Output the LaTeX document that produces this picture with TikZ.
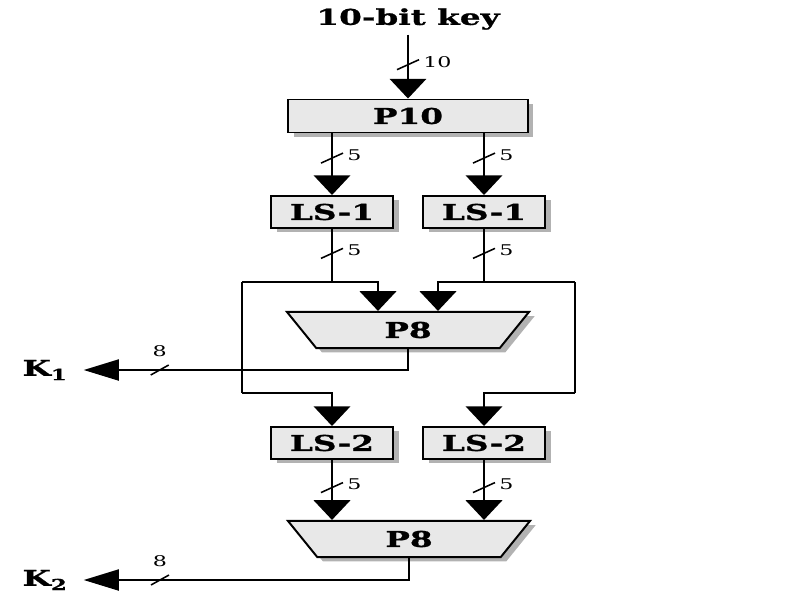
\documentclass[tikz,border=0pt]{standalone}
\usepackage{fontspec}
\setmainfont{DejaVu Serif}[FakeStretch=1.5, BoldFeatures={FakeBold=1}]
\usetikzlibrary{arrows.meta,positioning,shapes.geometric,shadows}

\tikzset{
  box/.style={draw, line width=1.4pt, fill=gray!18, inner sep=0pt, font=\bfseries\fontsize{15.5}{18}\selectfont,
    drop shadow={shadow xshift=4pt, shadow yshift=-3pt, fill=gray!60, opacity=1}},
  lsbox/.style={box, minimum width=3.05cm, minimum height=0.8cm},
  perm/.style={box, trapezium, shape border rotate=180, trapezium angle=51, trapezium stretches body,
    inner ysep=7pt, minimum width=6.05cm, minimum height=0.875cm},
  wire/.style={line width=1.3pt},
  arrow/.style={wire, -{Triangle[width=26pt,length=14pt]}},
  arrowl/.style={wire, -{Triangle[width=15pt,length=25pt]}, shorten >=8pt},
  lbl/.style={font=\bfseries\fontsize{15.5}{18}\selectfont},
  buslbl/.style={font=\fontsize{10.5}{12}\selectfont, inner sep=1pt},
  bus/.pic={\draw[-, shorten >=0pt, line width=1.1pt] (-11,5) -- (11,-5); \node[buslbl, anchor=west] at (13,-3) {#1};},
  busk/.pic={\draw[-, shorten >=0pt, line width=1.1pt] (-9,5) -- (9,-5); \node[buslbl, anchor=south] at (0,-11) {#1};}
}

\begin{document}
\begin{tikzpicture}[x=0.025cm, y=-0.025cm]
  \useasboundingbox (0,0) rectangle (809,612);

  \node[lbl] (key) at (408,19) {10-bit key};
  \node[box, minimum width=5.975cm, minimum height=0.825cm] (p10) at (408,116) {P10};

  \node[lsbox] (ls1a) at (332,212) {LS-1};
  \node[lsbox] (ls1b) at (484,212) {LS-1};

  \node[perm] (p8a) at (408,330) {P8};

  \node[lsbox] (ls2a) at (332,443) {LS-2};
  \node[lsbox] (ls2b) at (484,443) {LS-2};

  \node[perm] (p8b) at (409,539) {P8};

  \node[lbl] (k1) at (45,370) {K\textsubscript{1}};
  \node[lbl] (k2) at (45,580) {K\textsubscript{2}};

  % split and cross-over points
  \coordinate (ja) at (332,282);
  \coordinate (jb) at (484,282);
  \coordinate (la) at (242,282);
  \coordinate (ra) at (575,282);
  \coordinate (ia) at (378,282);
  \coordinate (ib) at (438,282);
  \coordinate (lb) at (242,393);
  \coordinate (rb) at (575,393);
  \coordinate (ma) at (332,393);
  \coordinate (mb) at (484,393);

  \draw[arrow] (key) -- pic[pos=0.47]{bus=10} (p10);
  \draw[arrow] (p10.south -| ls1a) -- pic[pos=0.4]{bus=5} (ls1a);
  \draw[arrow] (p10.south -| ls1b) -- pic[pos=0.4]{bus=5} (ls1b);
  \draw[wire] (ls1a) -- pic[pos=0.46]{bus=5} (ja);
  \draw[wire] (ls1b) -- pic[pos=0.46]{bus=5} (jb);

  \draw[arrow] (la) -- (ia) -- (ia |- p8a.north);
  \draw[arrow] (ra) -- (ib) -- (ib |- p8a.north);
  \draw[wire] (la) -- (lb);
  \draw[wire] (ra) -- (rb);
  \draw[arrow] (lb) -- (ma) -- (ls2a);
  \draw[arrow] (rb) -- (mb) -- (ls2b);
  \draw[arrowl] (p8a.south) |- pic[pos=0.87]{busk=8} (k1);

  \draw[arrow] (ls2a) -- pic[pos=0.46]{bus=5} (ls2a |- p8b.north);
  \draw[arrow] (ls2b) -- pic[pos=0.46]{bus=5} (ls2b |- p8b.north);
  \draw[arrowl] (p8b.south) |- pic[pos=0.87]{busk=8} (k2);
\end{tikzpicture}
\end{document}
